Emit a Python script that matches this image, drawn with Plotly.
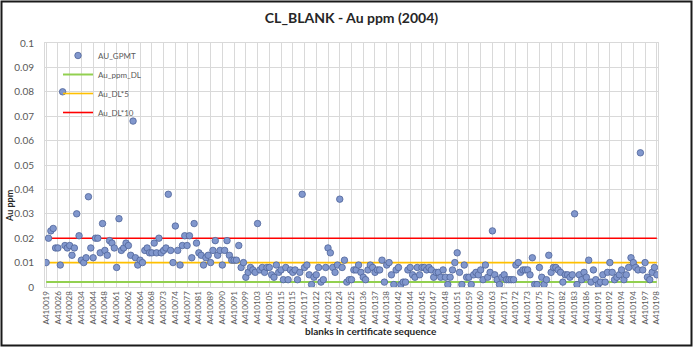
import plotly.graph_objects as go

# ---------------- data ----------------
chart_title = "CL_BLANK - Au ppm (2004)"
x_title = "blanks in certificate sequence"
y_title = "Au ppm"

tick_labels = [
    "A410019", "A410026", "A410028", "A410034", "A410044", "A410048", "A410061",
    "A410062", "A410064", "A410068", "A410073", "A410074", "A410077", "A410081",
    "A410089", "A410090", "A410091", "A410099", "A410103", "A410105", "A410115",
    "A410115", "A410117", "A410122", "A410123", "A410124", "A410125", "A410136",
    "A410137", "A410138", "A410142", "A410144", "A410145", "A410147", "A410148",
    "A410151", "A410159", "A410160", "A410163", "A410171", "A410172", "A410173",
    "A410175", "A410177", "A410182", "A410183", "A410186", "A410191", "A410192",
    "A410194", "A410194", "A410197", "A410198",
]

au_gpmt_part1 = [
    0.010, 0.020, 0.023, 0.024, 0.016, 0.016, 0.009, 0.080, 0.017, 0.016,
    0.017, 0.013, 0.016, 0.030, 0.021, 0.011, 0.010, 0.012, 0.037, 0.016,
    0.012, 0.020, 0.020, 0.014, 0.026, 0.015, 0.013, 0.019, 0.018, 0.016,
    0.008, 0.028, 0.015, 0.016, 0.018, 0.017, 0.013, 0.068, 0.012, 0.009,
    0.011, 0.010, 0.015, 0.016, 0.014, 0.014, 0.018, 0.014, 0.020, 0.014,
    0.015, 0.016, 0.038, 0.015, 0.010, 0.025, 0.015, 0.009, 0.017, 0.021,
    0.017, 0.021, 0.012, 0.026, 0.018, 0.014, 0.013, 0.009, 0.012, 0.013,
    0.010, 0.015, 0.019, 0.013, 0.015, 0.009, 0.015, 0.019, 0.013, 0.011,
    0.011, 0.011, 0.017, 0.008, 0.010, 0.004, 0.006,
]
au_gpmt_part2 = [
    0.008, 0.007, 0.006, 0.026, 0.007, 0.008, 0.006, 0.008, 0.008, 0.005,
    0.004, 0.009, 0.006, 0.007, 0.003, 0.008, 0.003, 0.007, 0.006, 0.007,
    0.003, 0.006, 0.038, 0.008, 0.009, 0.005, 0.001, 0.004, 0.005, 0.008,
    0.002, 0.003, 0.008, 0.016, 0.014, 0.008, 0.006, 0.009, 0.036, 0.008,
    0.011, 0.002, 0.003, 0.003, 0.007, 0.007, 0.009, 0.006,
]
au_gpmt_part3 = [
    0.004, 0.003, 0.007, 0.009, 0.008, 0.006, 0.007, 0.007, 0.011, 0.002,
    0.009, 0.010, 0.005, 0.001, 0.007, 0.008, 0.001, 0.002, 0.002, 0.007,
    0.008, 0.005, 0.004, 0.008, 0.005, 0.008, 0.008, 0.007, 0.008, 0.007,
    0.004, 0.006, 0.006, 0.004, 0.007, 0.004, 0.001, 0.004, 0.007, 0.010,
    0.014, 0.006, 0.001, 0.009, 0.004, 0.004, 0.001, 0.005, 0.006, 0.005,
    0.007, 0.003, 0.009, 0.004, 0.006, 0.023, 0.005, 0.003, 0.001, 0.004,
    0.005, 0.003, 0.003, 0.003, 0.003, 0.009, 0.010, 0.006,
]
au_gpmt_part4 = [
    0.007, 0.007, 0.007, 0.005, 0.012, 0.001, 0.001, 0.008, 0.004, 0.001,
    0.003, 0.013, 0.006, 0.008, 0.008, 0.007, 0.006, 0.002, 0.005, 0.005,
    0.004, 0.005, 0.030, 0.001, 0.005, 0.003, 0.006, 0.004, 0.011, 0.002,
    0.007, 0.003, 0.001, 0.002, 0.005, 0.002, 0.006, 0.010, 0.006, 0.003,
    0.004, 0.005, 0.007, 0.003, 0.005, 0.008, 0.012, 0.010, 0.008, 0.007,
    0.055, 0.007, 0.010, 0.004, 0.003, 0.006, 0.008, 0.005,
]
au_gpmt = au_gpmt_part1 + au_gpmt_part2 + au_gpmt_part3 + au_gpmt_part4

au_ppm_dl = 0.002
au_dl_5 = 0.01
au_dl_10 = 0.02

# ---------------- figure ----------------
W, H = 694, 348
ML, MR, MT, MB = 45, 36, 43, 61
PW, PH = W - ML - MR, H - MT - MB

n = len(au_gpmt)
idx = list(range(n))
label_step = 5

FONT = "Lato, 'Open Sans', sans-serif"
GRAY = "#595959"
GRID = "#d9d9d9"


def px_to_paper_x(px):
    return (px - ML) / PW


def px_to_paper_y(py):
    return (H - MB - py) / PH


fig = go.Figure()

fig.add_trace(go.Scatter(
    x=idx, y=[au_ppm_dl] * n, mode="lines", name="Au_ppm_DL",
    line=dict(color="#92d050", width=2), legendrank=2, hoverinfo="skip"))
fig.add_trace(go.Scatter(
    x=idx, y=[au_dl_5] * n, mode="lines", name="Au_DL*5",
    line=dict(color="#ffc000", width=1.6), legendrank=3, hoverinfo="skip"))
fig.add_trace(go.Scatter(
    x=idx, y=[au_dl_10] * n, mode="lines", name="Au_DL*10",
    line=dict(color="#ff0000", width=1.6), legendrank=4, hoverinfo="skip"))
fig.add_trace(go.Scatter(
    x=idx, y=au_gpmt, mode="markers", name="AU_GPMT",
    marker=dict(size=6.5, color="#8197cd", line=dict(color="#4f6499", width=0.8)),
    legendrank=1))

fig.update_layout(
    width=W, height=H,
    margin=dict(l=ML, r=MR, t=MT, b=MB),
    paper_bgcolor="white", plot_bgcolor="white",
    font=dict(family=FONT, color=GRAY),
    title=dict(text="<b>" + chart_title + "</b>", x=0.5, xanchor="center",
               xref="paper", y=1 - 18 / H, yanchor="middle",
               font=dict(family=FONT, size=14, color="#262626")),
    showlegend=True,
    legend=dict(x=px_to_paper_x(58), y=px_to_paper_y(41), xanchor="left", yanchor="top",
                bgcolor="rgba(0,0,0,0)", font=dict(size=8, color=GRAY),
                tracegroupgap=0),
    xaxis=dict(range=[-0.5, n - 0.5], tickmode="array",
               tickvals=idx[::label_step], ticktext=tick_labels,
               tickangle=-90, tickfont=dict(size=8, color=GRAY),
               showgrid=True, gridcolor=GRID, gridwidth=1,
               showline=True, linecolor=GRID, mirror=True, ticks="",
               zeroline=False),
    yaxis=dict(range=[0, 0.1], dtick=0.01, tick0=0,
               tickfont=dict(size=10, color=GRAY),
               showgrid=True, gridcolor=GRID, gridwidth=1,
               showline=True, linecolor=GRID, mirror=True, ticks="",
               zeroline=False, ticklabelstandoff=8),
)

fig.add_annotation(text="<b>" + y_title + "</b>", xref="paper", yref="paper",
                   x=px_to_paper_x(9), y=px_to_paper_y(206), textangle=-90,
                   xanchor="center", yanchor="middle",
                   showarrow=False, font=dict(family=FONT, size=9, color="#262626"))
fig.add_annotation(text="<b>" + x_title + "</b>", xref="paper", yref="paper",
                   x=px_to_paper_x(371), y=px_to_paper_y(331),
                   xanchor="center", yanchor="middle",
                   showarrow=False, font=dict(family=FONT, size=10, color="#262626"))

fig.add_shape(type="rect", xref="paper", yref="paper",
              x0=px_to_paper_x(1.5), x1=px_to_paper_x(691.5),
              y0=px_to_paper_y(345.5), y1=px_to_paper_y(1.5),
              line=dict(color="#1a1a1a", width=2), layer="above")

fig.write_html("out.html")
